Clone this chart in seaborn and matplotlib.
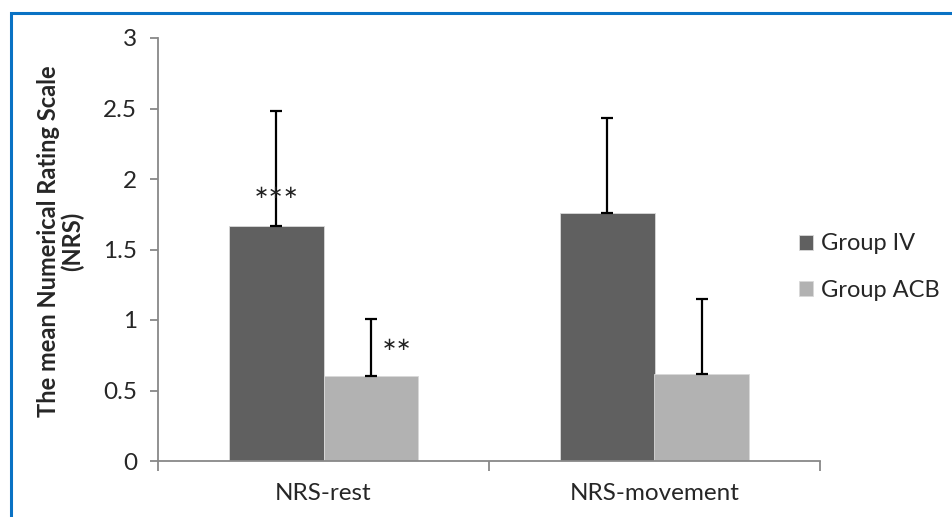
import matplotlib
matplotlib.use("Agg")
import matplotlib.pyplot as plt
import seaborn as sns
import pandas as pd
import numpy as np
from matplotlib.patches import Rectangle

categories = ["NRS-rest", "NRS-movement"]
groups = ["Group IV", "Group ACB"]
group_iv_mean = [1.67, 1.76]
group_acb_mean = [0.60, 0.62]
group_iv_sd = [0.81, 0.67]
group_acb_sd = [0.41, 0.53]
y_ticks = [0, 0.5, 1, 1.5, 2, 2.5, 3]
y_tick_labels = ["0", "0.5", "1", "1.5", "2", "2.5", "3"]
y_label = "The mean Numerical Rating Scale\n(NRS)"

sns.set_theme(style="white")
plt.rcParams["font.family"] = ["Lato", "DejaVu Sans"]

df = pd.DataFrame({
    "category": categories * 2,
    "group": [groups[0]] * 2 + [groups[1]] * 2,
    "value": group_iv_mean + group_acb_mean,
})

fig = plt.figure(figsize=(9.52, 5.17), dpi=100)
ax = fig.add_axes([158 / 952, 1 - 461 / 517, (820 - 158) / 952, (461 - 38) / 517])

palette = {"Group IV": "#606060", "Group ACB": "#b2b2b2"}
sns.barplot(data=df, x="category", y="value", hue="group", order=categories,
            hue_order=groups, palette=palette, errorbar=None, width=0.568,
            saturation=1, edgecolor="#d9d9d9", linewidth=0.6, ax=ax)

# error bars (upper only) from bar patches
bars = [p for p in ax.patches if p.get_height() > 0]
bars_sorted = sorted(bars, key=lambda p: p.get_x())
sd_order = [group_iv_sd[0], group_acb_sd[0], group_iv_sd[1], group_acb_sd[1]]
for p, sd in zip(bars_sorted, sd_order):
    xc = p.get_x() + p.get_width() / 2
    h = p.get_height()
    ax.errorbar(xc, h, yerr=[[0], [sd]], fmt="none", ecolor="black",
                elinewidth=1.6, capsize=4.5, capthick=1.6, zorder=5)

# significance marks
p_iv_rest = bars_sorted[0]
ax.text(p_iv_rest.get_x() + p_iv_rest.get_width() / 2, 1.90, "\u2217\u2217\u2217",
        ha="center", va="center", fontsize=13, color="#222222",
        family="DejaVu Sans", zorder=6)
ax.text(0.222, 0.82, "\u2217\u2217", ha="center", va="center", fontsize=13,
        color="#222222", family="DejaVu Sans", zorder=6)

ax.set_xlim(-0.5, 1.5)
ax.set_ylim(0, 3)
ax.set_yticks(y_ticks)
ax.set_yticklabels(y_tick_labels)
ax.set_xticks([0, 1])
ax.set_xticklabels(categories)
ax.set_xticks([-0.5, 0.5, 1.5], minor=True)
ax.set_xlabel("")
ax.set_ylabel(y_label, fontsize=17, fontweight="bold", linespacing=1.0)
ax.yaxis.set_label_coords(-0.112, 0.52)

for side in ["top", "right"]:
    ax.spines[side].set_visible(False)
for side in ["left", "bottom"]:
    ax.spines[side].set_color("#888888")
    ax.spines[side].set_linewidth(1.3)

ax.tick_params(axis="y", which="major", direction="out", length=6, width=1.3,
               color="#888888", labelsize=17.5, pad=9, left=True)
ax.tick_params(axis="x", which="major", length=0, labelsize=17.5, pad=16)
ax.tick_params(axis="x", which="minor", direction="out", length=7, width=1.3,
               color="#888888", bottom=True)

handles, labels = ax.get_legend_handles_labels()
ax.legend(handles, labels, loc="center left", bbox_to_anchor=(799 / 952, 1 - 267 / 517),
          bbox_transform=fig.transFigure, frameon=False, fontsize=17, borderpad=0,
          borderaxespad=0, handlelength=0.6, handleheight=0.6, handletextpad=0.35,
          labelspacing=1.07)

fig.patches.append(Rectangle((11 / 952, -0.1), 1.2, 1.1 - 12.5 / 517,
                             transform=fig.transFigure, fill=False,
                             edgecolor="#0a72c4", linewidth=2.2, clip_on=False))

fig.savefig("out.png", dpi=100)
